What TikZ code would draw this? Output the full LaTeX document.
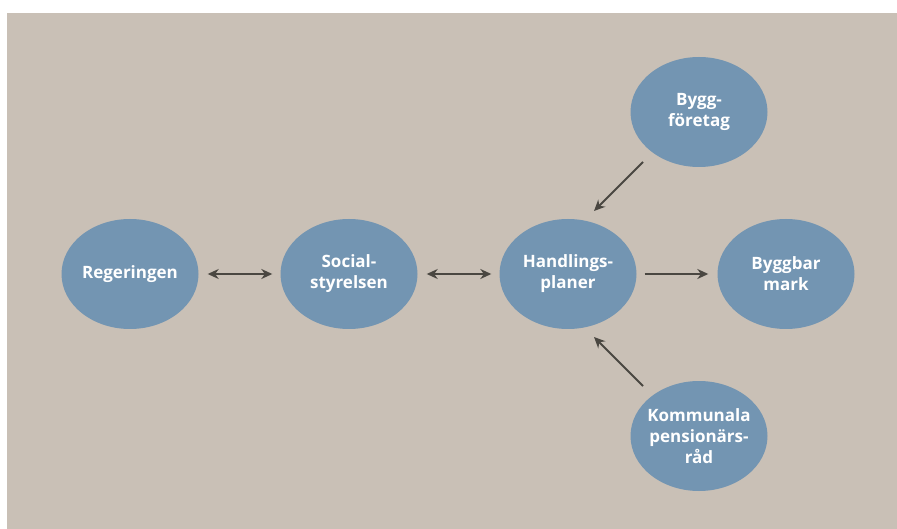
\documentclass[tikz,border=0pt]{standalone}
\usepackage{fontspec}
\setmainfont{Open Sans}
\usetikzlibrary{arrows.meta,shapes.geometric}
\definecolor{bgc}{HTML}{C9C0B6}
\definecolor{ellc}{HTML}{7395B2}
\definecolor{arrc}{HTML}{4A4741}
\begin{document}
\begin{tikzpicture}[x=1pt,y=-1pt,
  blob/.style={ellipse,fill=ellc,draw=none,minimum width=137pt,minimum height=110pt,inner sep=-15pt,
    text=white,font=\bfseries\fontsize{17}{21}\selectfont,align=center},
  arr/.style={draw=arrc,line width=2pt,-{Stealth[length=11pt,width=10pt]}},
  darr/.style={draw=arrc,line width=2pt,{Stealth[length=11pt,width=10pt]}-{Stealth[length=11pt,width=10pt]}}]
\useasboundingbox (0,0) rectangle (897,529);
\fill[bgc] (7,13) rectangle (897,529);
\node[blob] (reg) at (130,274) {Regeringen};
\node[blob] (soc) at (349,274) {Social-\\styrelsen};
\node[blob] (hand) at (568,274) {Handlings-\\planer};
\node[blob] (mark) at (786,274) {Byggbar\\mark};
\node[blob] (byg) at (699,112) {Bygg-\\företag};
\node[blob] (kom) at (699,436) {Kommunala\\pensionärs-\\råd};
\draw[darr] ([xshift=9pt]reg.east) -- ([xshift=-8pt]soc.west);
\draw[darr] ([xshift=9pt]soc.east) -- ([xshift=-8pt]hand.west);
\draw[arr] ([xshift=8pt]hand.east) -- ([xshift=-9pt]mark.west);
\draw[arr] ([shift={(-56,50)}]byg.center) -- ([shift={(26,-63)}]hand.center);
\draw[arr] ([shift={(-56,-50)}]kom.center) -- ([shift={(26,63)}]hand.center);
\end{tikzpicture}
\end{document}
